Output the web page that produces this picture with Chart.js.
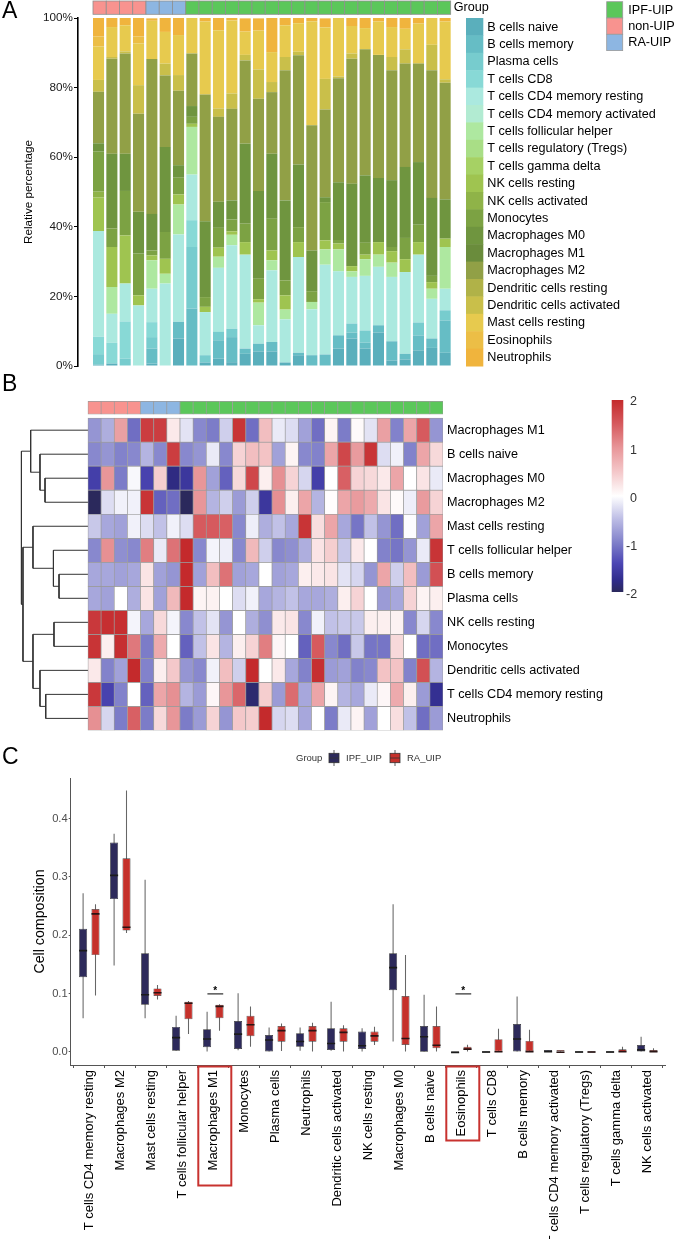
<!DOCTYPE html>
<html>
<head>
<meta charset="utf-8">
<script src="https://cdn.jsdelivr.net/npm/chart.js@4.4.1/dist/chart.umd.min.js"></script>
<style>
  body { margin: 0; background: #fff; }
  #page { position: relative; width: 675px; height: 1239px; overflow: hidden; font-family: "Liberation Sans", Arial, sans-serif; }
  canvas { position: absolute; left: 0; }
  .tag { position: absolute; left: 2px; font-size: 23px; line-height: 1; color: #000; }
</style>
</head>
<body>
<div id="page">
  <canvas id="chart-a" width="675" height="375" style="top:0"></canvas>
  <canvas id="chart-b" width="675" height="362" style="top:380px"></canvas>
  <canvas id="chart-c" width="675" height="499" style="top:740px"></canvas>
  <div class="tag" style="top:-1px">A</div>
  <div class="tag" style="top:372px">B</div>
  <div class="tag" style="top:745px">C</div>
</div>
<script>
// ---------- panel A : relative fractions per sample (%) ----------
const groupNames = ['IPF-UIP', 'non-UIP', 'RA-UIP'];
const groupColors = ['#5BC75A', '#F8938F', '#8DB6E2'];
const sampleGroups = ['non-UIP', 'non-UIP', 'non-UIP', 'non-UIP', 'RA-UIP', 'RA-UIP', 'RA-UIP',
  'IPF-UIP', 'IPF-UIP', 'IPF-UIP', 'IPF-UIP', 'IPF-UIP', 'IPF-UIP', 'IPF-UIP', 'IPF-UIP', 'IPF-UIP', 'IPF-UIP',
  'IPF-UIP', 'IPF-UIP', 'IPF-UIP', 'IPF-UIP', 'IPF-UIP', 'IPF-UIP', 'IPF-UIP', 'IPF-UIP', 'IPF-UIP', 'IPF-UIP'];

const cellTypes = ['B cells naive', 'B cells memory', 'Plasma cells', 'T cells CD8', 'T cells CD4 memory resting',
  'T cells CD4 memory activated', 'T cells follicular helper', 'T cells regulatory (Tregs)', 'T cells gamma delta',
  'NK cells resting', 'NK cells activated', 'Monocytes', 'Macrophages M0', 'Macrophages M1', 'Macrophages M2',
  'Dendritic cells resting', 'Dendritic cells activated', 'Mast cells resting', 'Eosinophils', 'Neutrophils'];
const cellColors = ['#5AAFBC', '#66BDC5', '#77CCCE', '#88D9D6', '#ABE9DF', '#B2EBD2', '#AEE8A0', '#A9DE86',
  '#A6D164', '#9FC450', '#8FB348', '#7CA243', '#6F953F', '#6A8C3C', '#91A046', '#B0B248', '#C9BF4A',
  '#E7CA4E', '#ECBE46', '#F0B43D'];

const bCellsNaive = [0.4, 0.7, 0, 0, 0.7, 0, 7.9, 0, 1, 2.1, 1.1, 3.5, 4.2, 4.2, 1, 3.1, 0, 0, 5, 7.9, 5, 9.6, 1.6, 1.9, 4.5, 5.2, 3.8];
const bCellsMemory = [0, 0, 0, 0, 4.3, 0, 4.8, 16.5, 0, 5.3, 7.2, 1.5, 2.2, 2.7, 0, 0.7, 3.1, 3.3, 3.8, 1.7, 1.7, 2.1, 5.5, 1.6, 4.3, 2.7, 9.3];
const plasmaCells = [3, 0, 2.1, 0, 3.3, 0, 0, 17.7, 2.1, 2.4, 2.4, 0, 0, 0, 0, 0, 0, 0, 0, 2.6, 3.5, 0, 0, 0, 3.7, 0, 2.9];
const tCellsCD8 = [5, 6, 10.7, 0, 4.3, 0, 0, 7.7, 0, 0, 0, 0, 0, 0, 0, 0, 0, 0, 0, 0, 0, 0, 0, 0, 0, 0, 0];
const tCD4Resting = [30.4, 8.3, 10.9, 17.4, 9.6, 23.7, 25.1, 13.1, 12.4, 18.4, 24, 27, 5.3, 20.6, 12.4, 27.5, 13.2, 25.8, 18.4, 13.4, 15.7, 16.8, 18.5, 23.5, 19.5, 11.4, 6.2];
const tCD4Activated = [0, 0, 0, 0, 0, 0, 0, 0, 0, 0, 0, 0, 0, 0, 0, 0, 0, 0, 0, 0, 0, 0, 0, 0, 0, 0, 0];
const tFollicular = [0, 7.7, 0, 0, 8.2, 2.8, 8.6, 13.7, 0, 3.2, 3, 0, 6.5, 2.9, 2.8, 0, 2.1, 4.4, 6.3, 1.6, 4.8, 3.5, 4.1, 0, 0, 2.9, 12];
const tRegulatory = [0, 0, 0, 0, 0, 0, 0, 0, 0, 0, 0, 0, 0, 0, 0, 0, 0, 0, 0, 0, 0, 0, 0, 0, 0, 0, 0];
const tGammaDelta = [0, 0, 0, 0, 0, 0, 0, 0, 0, 0, 0, 0, 0, 0, 0, 0, 0, 0, 0, 0, 0, 0, 0, 0, 0, 0, 0];
const nkResting = [9.6, 11.5, 13.8, 2.9, 1.4, 4.3, 2.9, 0.9, 1.5, 2.6, 1, 3.6, 1, 2.8, 4.1, 4.3, 0, 2.6, 1.7, 1.5, 1.3, 3.6, 3.3, 3.7, 3.6, 1.9, 2.4];
const nkActivated = [1.7, 0, 0, 0, 0, 0, 0, 0, 0, 0, 0, 0, 0, 0, 0, 0, 0, 0, 0, 0, 0, 0, 0, 0, 0, 0, 0];
const monocytes = [11.5, 5.3, 12.8, 12, 1.4, 7.7, 4.8, 2, 2.8, 5.7, 3.4, 5.3, 5.9, 9.1, 4.3, 4.3, 3.1, 11, 1, 0, 3.4, 0, 1.2, 6.1, 5, 1.8, 0];
const macroM0 = [2.4, 21.5, 10.7, 12, 10.5, 24.4, 3.6, 3.1, 21.8, 7.5, 5.5, 23, 25.2, 18.7, 23, 18, 11.7, 1.4, 16.6, 23.7, 19.4, 18.4, 19.2, 20.4, 18, 22.4, 11.3];
const macroM1 = [0, 0, 0, 0, 0, 0, 0, 0, 0, 0, 0, 0, 0, 0, 0, 0, 0, 0, 0, 0, 0, 0, 0, 0, 0, 0, 0];
const macroM2 = [14.8, 27.3, 28.8, 28.2, 44.5, 20.6, 21.4, 15.1, 36.4, 24.4, 26.3, 23.9, 26.5, 17.7, 37.4, 31.4, 36, 25.2, 29.9, 35.9, 36.2, 35.4, 31.6, 29.7, 28.3, 36.7, 33.5];
const dcResting = [0, 0, 0, 0, 0, 0, 0, 0, 0, 0, 0, 0, 0, 0, 0, 0, 0, 0, 0, 0, 0, 0, 0, 0, 0, 0, 0];
const dcActivated = [3.4, 0.5, 0.6, 8.2, 0, 3.4, 4.5, 0, 0, 2.4, 4.4, 1.6, 8.4, 2.9, 3.8, 1, 0, 8.8, 0.5, 1.5, 0, 0, 3.8, 4.1, 0, 7.3, 1];
const mastResting = [9.6, 8.6, 7.5, 12, 11, 9.1, 11.5, 10.2, 21, 22.5, 21, 6.7, 11.2, 8.6, 9.1, 8.2, 29.9, 14.8, 17, 7.9, 6.1, 9.6, 8.6, 5.9, 11.5, 7.7, 16.6];
const eosinophils = [2.9, 0, 0, 2, 0, 0, 0, 0, 0, 0, 0, 0, 0, 0, 0, 0, 0, 0, 0, 0, 0, 0, 0, 0, 0, 0, 0];
const neutrophils = [5.4, 2.6, 2.1, 5.4, 0.7, 4, 5, 0, 1, 3.5, 0.7, 3.8, 3.5, 9.8, 2.1, 1.6, 1, 2.6, 0, 2.3, 2.9, 1, 2.6, 3.1, 1.6, 0, 1];

const fractionSeries = [bCellsNaive, bCellsMemory, plasmaCells, tCellsCD8, tCD4Resting, tCD4Activated, tFollicular,
  tRegulatory, tGammaDelta, nkResting, nkActivated, monocytes, macroM0, macroM1, macroM2, dcResting, dcActivated,
  mastResting, eosinophils, neutrophils];
const percentTicks = [0, 20, 40, 60, 80, 100];

// ---------- panel B : z-scores, rows top to bottom ----------
const rowNames = ['Macrophages M1', 'B cells naive', 'Macrophages M0', 'Macrophages M2', 'Mast cells resting',
  'T cells follicular helper', 'B cells memory', 'Plasma cells', 'NK cells resting', 'Monocytes',
  'Dendritic cells activated', 'T cells CD4 memory resting', 'Neutrophils'];
const zMacroM1 = [-0.8, -0.6, 0.9, -1.1, 1.8, 1.8, 0.2, -0.2, -0.9, -1, -0.35, 1.9, -1.1, 0.6, -0.15, -0.25, -0.7, -1.1, 0.1, -1, 0.05, -0.2, 0.9, -0.95, 0.85, 1.5, -0.8];
const zBNaive = [-0.9, -0.8, -0.95, -0.9, -0.55, -0.9, 1.8, -0.9, -0.8, -0.15, -0.9, 0.4, 0.6, 0.55, -0.7, 0.1, -0.9, -0.95, 0.85, 1.7, 0.95, 1.9, -0.25, -0.1, -0.95, 0.85, 0.35];
const zMacroM0 = [-1.5, 1, -1, -0.05, -1.45, 0.45, -1.8, -1.6, 1, -0.7, -1.2, 0.35, 1.7, 0.15, 1.05, 0.4, -0.3, -1.5, 0, 1.45, 0.4, 0.35, 0.2, 0.85, 0, 0.25, -0.15];
const zMacroM2 = [-2, -0.25, -0.1, -0.1, 1.9, -1.2, -1.1, -2, 1, -0.55, -0.35, -0.75, -0.35, -1.6, 1.05, 0.15, 0.85, -0.55, 0.02, 0.85, 0.95, 0.8, 0.25, 0.05, -0.12, 0.95, 0.4];
const zMast = [-0.4, -0.65, -0.7, -0.1, -0.25, -0.45, -0.1, -0.25, 1.5, 1.5, 1.45, -0.9, -0.12, -0.6, -0.45, -0.65, 1.9, 0.3, 0.85, -0.65, -1.05, -0.45, -0.8, -1.1, -0.02, -0.7, 0.85];
const zTfh = [-0.9, 1.05, -0.85, -0.9, 1.2, -0.15, 1.3, 2, -0.9, -0.08, -0.12, -0.9, 0.65, -0.35, -0.9, -0.85, -0.6, 0.25, 0.45, -0.4, 0.2, 0, -0.95, -1.05, -0.8, -0.15, 1.9];
const zBMemory = [-0.65, -0.65, -0.7, -0.65, 0.25, -0.7, -0.8, 2, -0.7, 0.6, 1.3, -0.7, -0.65, 0, -0.7, -0.65, 0.15, 0.2, 0.25, -0.2, -0.3, -0.8, 0.85, -0.35, 0.6, -0.75, 1.6];
const zPlasma = [-0.65, -0.7, 0, -0.6, 0.25, -0.7, 0.65, 2, 0.1, 0.12, 0, -0.25, -0.1, -0.65, -0.55, -0.45, -0.65, -0.65, -0.6, 0.15, 0.4, 0, -0.75, -0.65, 0.4, 0.1, 0.15];
const zNKResting = [1.85, 1.95, 1.95, -0.08, -0.65, 0.35, -0.08, -0.9, -0.45, -0.2, -0.8, 0, -0.6, -0.85, 0.2, 0.25, -0.9, -0.1, -0.45, -0.4, -0.4, 0.15, 0.15, 0.12, -0.9, -0.3, -0.9];
const zMonocytes = [1.9, 0.15, 1.95, 1.25, -1, 0.8, 0, -1.2, -0.45, 0.25, -0.55, 0.15, 0.4, 1.2, 0.08, 0, -1.2, 1.5, -0.9, -1.1, -0.4, -1.05, -1.05, 0.35, 0, -1.1, -1.1];
const zDCActivated = [0.2, -0.95, -0.7, 2, -0.95, 0.15, 0.5, -0.8, -0.9, -0.1, 0.6, -0.35, 2, 0, 0.2, -0.65, -0.95, 1.95, -0.75, -0.7, -0.95, -0.9, 0.55, 0.55, -0.95, 1.6, -0.55];
const zCD4Resting = [1.85, -1.45, -0.95, 0, -1.2, 0.85, 1.05, -0.55, -0.75, 0.08, 1, 1.4, -1.9, 0.45, -0.75, 1.35, -0.65, 0.85, 0.1, -0.55, -0.65, -0.15, 0.08, 0.8, 0.15, -0.75, -1.7];
const zNeutrophils = [1.05, -0.3, -1, 1.45, -1, 0.35, 1, -1, -0.75, 0.4, -0.8, 0.5, 0.45, 2, -0.3, -0.25, -0.65, 0, -1, -0.15, 0.1, -0.7, 0, 0.3, -0.45, -1.1, -0.75];
const zRows = [zMacroM1, zBNaive, zMacroM0, zMacroM2, zMast, zTfh, zBMemory, zPlasma, zNKResting, zMonocytes,
  zDCActivated, zCD4Resting, zNeutrophils];
// row clustering (hclust style: negative = row number, positive = earlier merge)
const mergeLeft = [-7, -9, -6, -12, -3, -2, -11, -5, 2, -1, 8, 10];
const mergeRight = [-8, -10, 1, -13, -4, 5, 4, 3, 7, 6, 9, 11];
const mergeHeight = [4.14, 4.86, 4.94, 6.04, 6.14, 6.86, 6.86, 7.86, 7.86, 8.19, 9.29, 9.51];
const zTicks = [2, 1, 0, -1, -2];

// ---------- panel C : box statistics ----------
const boxCats = ['T cells CD4 memory resting', 'Macrophages M2', 'Mast cells resting', 'T cells follicular helper',
  'Macrophages M1', 'Monocytes', 'Plasma cells', 'Neutrophils', 'Dendritic cells activated', 'NK cells resting',
  'Macrophages M0', 'B cells naive', 'Eosinophils', 'T cells CD8', 'B cells memory', 'T cells CD4 memory activated',
  'T cells regulatory (Tregs)', 'T cells gamma delta', 'NK cells activated'];
const ipfMin = [0.058, 0.148, 0.058, 0.002, 0, 0.003, 0, 0.002, 0.002, 0, 0.018, 0, 0, 0, 0, 0.001, 0, 0, 0];
const ipfQ1 = [0.128, 0.262, 0.081, 0.002, 0.008, 0.005, 0, 0.009, 0.0034, 0.005, 0.106, 0.0005, 0, 0, 0, 0.001, 0, 0, 0];
const ipfMed = [0.175, 0.304, 0.0995, 0.026, 0.0235, 0.032, 0.022, 0.0194, 0.016, 0.012, 0.146, 0.0274, 0.0005, 0, 0.0235, 0.002, 0, 0, 0.005];
const ipfQ3 = [0.211, 0.359, 0.169, 0.043, 0.039, 0.053, 0.029, 0.032, 0.0406, 0.035, 0.169, 0.0446, 0.001, 0.0005, 0.048, 0.003, 0.0005, 0.0005, 0.012];
const ipfMax = [0.272, 0.374, 0.295, 0.062, 0.069, 0.1006, 0.042, 0.042, 0.086, 0.0406, 0.253, 0.098, 0.001, 0.0005, 0.095, 0.003, 0.0005, 0.0005, 0.026];
const raMin = [0.097, 0.204, 0.09, 0.031, 0.0365, 0.009, 0.0017, 0, 0, 0.012, 0, 0, 0, 0, 0, 0.001, 0, 0, 0];
const raQ1 = [0.166, 0.208, 0.096, 0.056, 0.058, 0.027, 0.0177, 0.0177, 0.0177, 0.0177, 0.012, 0.0063, 0.0034, 0, 0, 0.001, 0, 0.0005, 0.0005];
const raMed = [0.238, 0.215, 0.103, 0.085, 0.0795, 0.048, 0.038, 0.038, 0.035, 0.029, 0.0245, 0.013, 0.0063, 0.0017, 0.002, 0.001, 0, 0.002, 0.002];
const raQ3 = [0.245, 0.332, 0.109, 0.086, 0.081, 0.062, 0.0445, 0.0445, 0.0406, 0.035, 0.096, 0.0446, 0.009, 0.022, 0.019, 0.0015, 0.0005, 0.0045, 0.0034];
const raMax = [0.253, 0.448, 0.115, 0.0875, 0.082, 0.078, 0.049, 0.05, 0.046, 0.0434, 0.166, 0.078, 0.0126, 0.04, 0.038, 0.0015, 0.0005, 0.009, 0.0063];
const compTicks = [0, 0.1, 0.2, 0.3, 0.4];
const sigCats = ['Macrophages M1', 'Eosinophils'];
const sigLevels = [0.0995, 0.0995];
const boxedCats = ['Macrophages M1', 'Eosinophils'];

const FONT = '"Liberation Sans", Arial, Helvetica, sans-serif';
Chart.defaults.font.family = FONT;
Chart.defaults.color = '#000';

// ---------------- A ----------------
const panelAKeys = {
  id: 'panelAKeys',
  afterDraw(chart) {
    const { ctx, chartArea, scales: { x } } = chart;
    const bw = chart.getDatasetMeta(0).data[0].width;
    const left = x.getPixelForValue(0) - bw / 2;
    const right = x.getPixelForValue(sampleGroups.length - 1) + bw / 2;
    const cw = (right - left) / sampleGroups.length;
    ctx.save();
    ctx.lineWidth = 0.8;
    ctx.strokeStyle = '#8f8f8f';
    sampleGroups.forEach((g, i) => {
      ctx.fillStyle = groupColors[groupNames.indexOf(g)];
      ctx.fillRect(left + i * cw, 1, cw, 13.3);
      ctx.strokeRect(left + i * cw, 1, cw, 13.3);
    });
    ctx.font = '12.65px ' + FONT;
    ctx.textBaseline = 'middle';
    ctx.fillStyle = '#000';
    ctx.fillText('Group', right + 3, 8);

    const h = (chartArea.bottom - chartArea.top) / cellTypes.length;
    cellTypes.forEach((name, k) => {
      const y = chartArea.top + k * h;
      ctx.fillStyle = cellColors[k];
      ctx.fillRect(466, y, 17.3, h + 0.5);
      ctx.fillStyle = '#000';
      ctx.fillText(name, 487.3, y + h / 2 + 0.5);
    });

    groupNames.forEach((g, k) => {
      const y = 1.7 + k * 16.3;
      ctx.fillStyle = groupColors[k];
      ctx.fillRect(606.7, y, 16, 16.3);
      ctx.strokeStyle = '#9a9a9a';
      ctx.strokeRect(606.7, y, 16, 16.3);
      ctx.fillStyle = '#000';
      ctx.fillText(g, 628.3, y + 8.4);
    });
    ctx.restore();
  }
};

new Chart(document.getElementById('chart-a'), {
  type: 'bar',
  data: {
    datasets: cellTypes.map((name, k) => ({
      label: name,
      data: fractionSeries[k].map((v, i) => ({ x: i, y: v })),
      backgroundColor: cellColors[k],
      borderWidth: 0,
      barPercentage: 0.83,
      categoryPercentage: 1
    }))
  },
  options: {
    responsive: false,
    animation: false,
    devicePixelRatio: 1,
    layout: { padding: { top: 18, right: 220, bottom: 9, left: 0 } },
    plugins: { legend: { display: false }, tooltip: { enabled: false } },
    scales: {
      x: {
        type: 'linear', stacked: true, offset: false, min: -1.54, max: 26.74, display: false,
        afterBuildTicks: s => { s.ticks = sampleGroups.map((g, i) => ({ value: i })); }
      },
      y: {
        stacked: true,
        min: 0,
        max: 100,
        afterBuildTicks: s => { s.ticks = percentTicks.map(v => ({ value: v })); },
        afterFit: s => { s.width = 78; },
        ticks: { callback: v => v + '%', font: { size: 11.7 }, color: '#1a1a1a', padding: 1 },
        grid: { display: true, drawOnChartArea: false, drawTicks: true, tickLength: 4, color: '#000' },
        border: { display: true, color: '#000', width: 1.6 },
        title: { display: true, text: 'Relative percentage', font: { size: 11.7 }, color: '#000', padding: { top: 22, bottom: 0 } }
      }
    }
  },
  plugins: [panelAKeys]
});

// ---------------- B ----------------
const heatStops = [-2, -1.75, -1.4, -1, -0.5, 0, 0.5, 1, 1.5, 2];
const heatRGB = [[43, 41, 92], [48, 44, 140], [76, 70, 180], [124, 124, 200], [186, 186, 228], [255, 255, 255],
  [244, 200, 202], [232, 150, 153], [214, 90, 94], [196, 42, 44]];
function heatColor(z) {
  const v = Math.max(-2, Math.min(2, z));
  let k = 0;
  while (k < heatStops.length - 2 && v > heatStops[k + 1]) k++;
  const t = (v - heatStops[k]) / (heatStops[k + 1] - heatStops[k]);
  const c = heatRGB[k].map((a, j) => Math.round(a + (heatRGB[k + 1][j] - a) * t));
  return 'rgb(' + c.join(',') + ')';
}

const nRows = rowNames.length;
const rowCenter = r => nRows - 0.5 - r;

const heatDatasets = rowNames.map((name, r) => ({
  type: 'bar',
  label: name,
  stack: 'hm',
  grouped: false,
  xAxisID: 'x',
  yAxisID: 'y',
  data: zRows[r].map((z, i) => ({ x: i + 0.5, y: [nRows - 1 - r, nRows - r] })),
  backgroundColor: zRows[r].map(heatColor),
  borderColor: '#9b9b9b',
  borderWidth: 0.7,
  borderSkipped: false,
  barPercentage: 1,
  categoryPercentage: 1
}));

heatDatasets.push({
  type: 'bar',
  label: 'Group',
  stack: 'hm',
  grouped: false,
  xAxisID: 'x',
  yAxisID: 'y',
  data: sampleGroups.map((g, i) => ({ x: i + 0.5, y: [13.165, 13.7] })),
  backgroundColor: sampleGroups.map(g => groupColors[groupNames.indexOf(g)]),
  borderColor: '#9b9b9b',
  borderWidth: 0.7,
  borderSkipped: false,
  barPercentage: 1,
  categoryPercentage: 1
});

const nodeY = [];
const nodeH = [];
const nodeOf = ref => ref < 0 ? { y: rowCenter(-ref - 1), h: 0 } : { y: nodeY[ref - 1], h: nodeH[ref - 1] };
mergeLeft.forEach((a, k) => {
  const A = nodeOf(a);
  const B = nodeOf(mergeRight[k]);
  const H = mergeHeight[k];
  nodeY.push((A.y + B.y) / 2);
  nodeH.push(H);
  heatDatasets.push({
    type: 'line',
    stack: 'hm',
    xAxisID: 'xd',
    yAxisID: 'y',
    data: [{ x: A.h, y: A.y }, { x: H, y: A.y }, { x: H, y: B.y }, { x: B.h, y: B.y }],
    borderColor: '#333',
    borderWidth: 1,
    pointRadius: 0,
    tension: 0,
    fill: false
  });
});

const heatLegend = {
  id: 'heatLegend',
  afterDraw(chart) {
    const { ctx } = chart;
    const top = 20, bottom = 212, x0 = 611.7, w = 11.6;
    const grad = ctx.createLinearGradient(0, bottom, 0, top);
    heatStops.forEach((s, k) => grad.addColorStop((s + 2) / 4, 'rgb(' + heatRGB[k].join(',') + ')'));
    ctx.save();
    ctx.fillStyle = grad;
    ctx.fillRect(x0, top, w, bottom - top);
    ctx.font = '12.5px ' + FONT;
    ctx.fillStyle = '#333';
    ctx.textBaseline = 'middle';
    zTicks.forEach(v => ctx.fillText(String(v), v < 0 ? 626 : 630, 22 + (2 - v) * 48.25));
    ctx.restore();
  }
};

new Chart(document.getElementById('chart-b'), {
  type: 'bar',
  data: { datasets: heatDatasets },
  options: {
    responsive: false,
    animation: false,
    devicePixelRatio: 1,
    layout: { padding: { top: 21, right: 0, bottom: 9, left: 18 } },
    plugins: { legend: { display: false }, tooltip: { enabled: false } },
    scales: {
      x: {
        type: 'linear', stacked: true, offset: false, min: -5.32, max: 27, display: false,
        afterBuildTicks: s => { s.ticks = sampleGroups.map((g, i) => ({ value: i + 0.5 })); }
      },
      xd: { type: 'linear', offset: false, min: -50.71, max: 10, reverse: true, display: false },
      y: {
        type: 'linear',
        position: 'right',
        stacked: false,
        min: 0,
        max: 13.715,
        afterBuildTicks: s => { s.ticks = rowNames.map((n, r) => ({ value: rowCenter(r) })); },
        afterFit: s => { s.width = 232; },
        ticks: {
          callback: v => rowNames[Math.round(nRows - 0.5 - v)],
          font: { size: 12.65 },
          color: '#000',
          padding: 4,
          autoSkip: false
        },
        grid: { display: false, drawTicks: false },
        border: { display: false }
      }
    }
  },
  plugins: [heatLegend]
});

// ---------------- C ----------------
const IPF_FILL = '#2D2A5B', RA_FILL = '#C5312B';
function boxSet(label, stack, lo, hi, style) {
  return Object.assign({
    label,
    stack,
    data: boxCats.map((c, i) => ({ x: i, y: [lo[i], hi[i]] })),
    categoryPercentage: 0.8,
    borderSkipped: false
  }, style);
}
const boxDatasets = [
  boxSet('IPF median', 'ipf', ipfMed, ipfMed, { backgroundColor: '#1c1c1c', barPercentage: 0.65, minBarLength: 1.6, order: 0 }),
  boxSet('RA median', 'ra', raMed, raMed, { backgroundColor: '#2a1414', barPercentage: 0.65, minBarLength: 1.6, order: 0 }),
  boxSet('IPF_UIP', 'ipf', ipfQ1, ipfQ3, { backgroundColor: IPF_FILL, borderColor: '#333', borderWidth: 0.7, barPercentage: 0.65, minBarLength: 1.5, order: 1 }),
  boxSet('RA_UIP', 'ra', raQ1, raQ3, { backgroundColor: RA_FILL, borderColor: '#444', borderWidth: 0.7, barPercentage: 0.65, minBarLength: 1.5, order: 1 }),
  boxSet('IPF whisker', 'ipf', ipfMin, ipfMax, { backgroundColor: '#666', barPercentage: 0.085, order: 2 }),
  boxSet('RA whisker', 'ra', raMin, raMax, { backgroundColor: '#666', barPercentage: 0.085, order: 2 })
];

const panelCExtras = {
  id: 'panelCExtras',
  afterDraw(chart) {
    const { ctx, scales: { x, y } } = chart;
    ctx.save();
    // legend
    ctx.font = '9.5px ' + FONT;
    ctx.textBaseline = 'middle';
    ctx.fillStyle = '#333';
    ctx.fillText('Group', 296, 18);
    [[329, 2], [390, 3]].forEach(([kx, di]) => {
      const ds = chart.data.datasets[di];
      ctx.strokeStyle = '#333';
      ctx.lineWidth = 0.8;
      ctx.beginPath(); ctx.moveTo(kx + 5, 10); ctx.lineTo(kx + 5, 26); ctx.stroke();
      ctx.fillStyle = ds.backgroundColor;
      ctx.fillRect(kx, 13.3, 10, 9.4);
      ctx.strokeRect(kx, 13.3, 10, 9.4);
      ctx.beginPath(); ctx.moveTo(kx, 18); ctx.lineTo(kx + 10, 18); ctx.stroke();
      ctx.fillStyle = '#333';
      ctx.fillText(ds.label, kx + 17, 18);
    });
    // significance
    ctx.strokeStyle = '#000';
    ctx.lineWidth = 1;
    ctx.fillStyle = '#000';
    ctx.textAlign = 'center';
    ctx.textBaseline = 'alphabetic';
    ctx.font = 'bold 10px ' + FONT;
    sigCats.forEach((c, k) => {
      const i = boxCats.indexOf(c);
      const x0 = x.getPixelForValue(i - 0.19), x1 = x.getPixelForValue(i + 0.32);
      const yy = y.getPixelForValue(sigLevels[k]);
      ctx.beginPath(); ctx.moveTo(x0, yy); ctx.lineTo(x1, yy); ctx.stroke();
      ctx.fillText('*', (x0 + x1) / 2, yy + 0.5);
    });
    // highlighted labels
    ctx.strokeStyle = '#C8322F';
    ctx.lineWidth = 2;
    const depth = [119, 74];
    boxedCats.forEach((c, k) => {
      const cx = x.getPixelForValue(boxCats.indexOf(c)) + 1.5;
      ctx.strokeRect(cx - 16.5, x.top + 1.5, 33, depth[k]);
    });
    ctx.restore();
  }
};

new Chart(document.getElementById('chart-c'), {
  type: 'bar',
  data: { datasets: boxDatasets },
  options: {
    responsive: false,
    animation: false,
    devicePixelRatio: 1,
    layout: { padding: { top: 38, right: 9.1, bottom: 0, left: 0 } },
    plugins: { legend: { display: false }, tooltip: { enabled: false } },
    scales: {
      x: {
        type: 'linear',
        stacked: true,
        offset: false,
        min: -0.6,
        max: 18.6,
        afterBuildTicks: s => { s.ticks = boxCats.map((c, i) => ({ value: i })); },
        afterFit: s => { s.height = 174; },
        ticks: {
          autoSkip: false,
          minRotation: 90,
          maxRotation: 90,
          callback: v => boxCats[v],
          font: { size: 13 },
          color: '#000',
          padding: 2
        },
        grid: { display: true, drawOnChartArea: false, drawTicks: true, tickLength: 3, color: '#555' },
        border: { display: true, color: '#555', width: 1 }
      },
      y: {
        stacked: false,
        min: -0.0223,
        max: 0.4695,
        afterBuildTicks: s => { s.ticks = compTicks.map(v => ({ value: v })); },
        afterFit: s => { s.width = 70.7; },
        ticks: { callback: v => v.toFixed(1), font: { size: 11.2 }, color: '#4d4d4d', padding: 1 },
        grid: { display: true, drawOnChartArea: false, drawTicks: true, tickLength: 2, color: '#555' },
        border: { display: true, color: '#555', width: 1 },
        title: { display: true, text: 'Cell composition', font: { size: 14.2 }, color: '#000', padding: { top: 32, bottom: 0 } }
      }
    }
  },
  plugins: [panelCExtras]
});
</script>
</body>
</html>
